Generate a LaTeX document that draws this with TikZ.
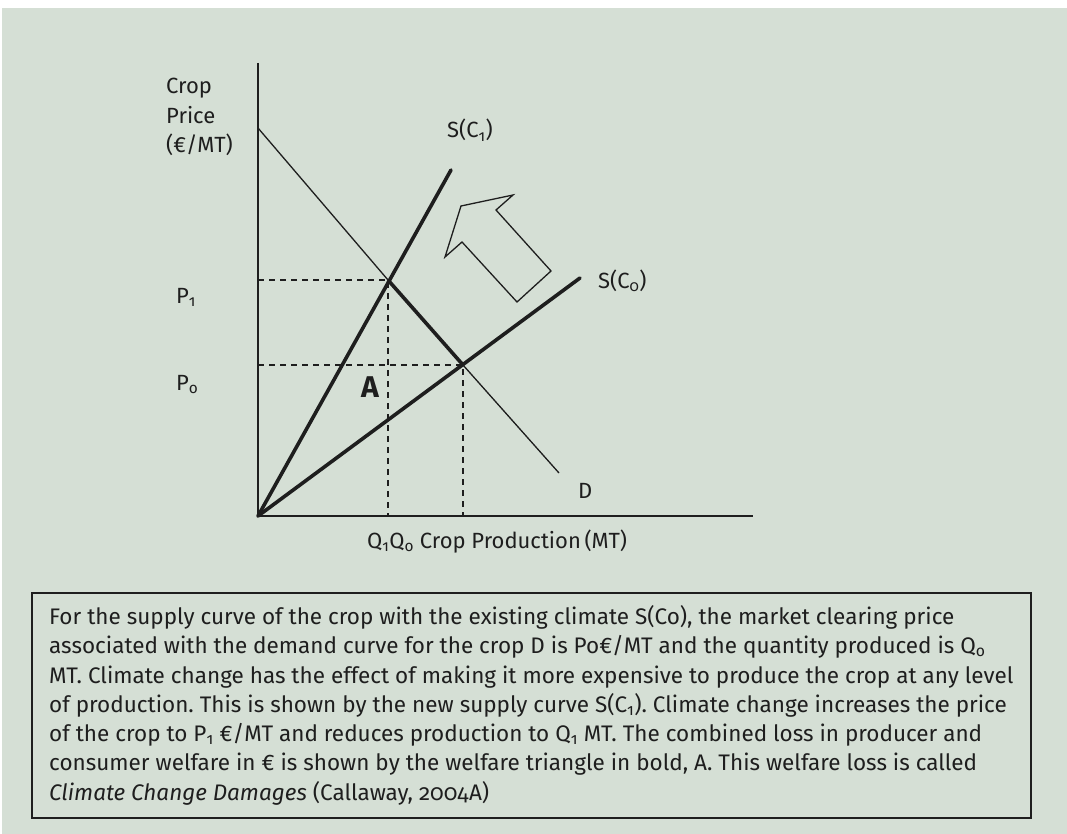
\documentclass[tikz,border=0pt]{standalone}
\usepackage{fontspec}
\setmainfont{Fira Sans}[Numbers=OldStyle]
\usepackage{tikz}
\usetikzlibrary{positioning,calc}
\definecolor{Sage}{HTML}{D5DFD5}
\definecolor{Ink}{HTML}{1E1E1E}
\newcommand{\sub}[1]{\textsubscript{#1}}
\frenchspacing

\begin{document}
\begin{tikzpicture}[x=1pt,y=-1pt,
  axis/.style={draw=Ink,line width=1.6pt},
  thin/.style={draw=Ink,line width=1.3pt},
  thick/.style={draw=Ink,line width=3.6pt},
  guide/.style={draw=Ink,line width=1.4pt,dash pattern=on 6pt off 5pt},
  lbl/.style={inner sep=0pt,anchor=base west,text=Ink,font=\fontsize{22}{29.5}\selectfont},
  notebox/.style={draw=Ink,line width=1.6pt,anchor=north west,minimum width=999pt,minimum height=225pt,
    inner sep=0pt,align=left,text=Ink,font=\fontsize{22.5}{29.3}\selectfont}
]
\useasboundingbox (0,0) rectangle (1067,834);
\fill[white] (0,0) rectangle (1067,834);
\fill[Sage] (2,8) rectangle (1067,834);
% points of the chart
\coordinate (O) at (258,516);
\coordinate (ytop) at (258,63);
\coordinate (xend) at (753,516);
\coordinate (dtop) at (258,128);
\coordinate (dend) at (559,473);
\coordinate (e1) at (388,280);
\coordinate (e0) at (463,365);
\coordinate (s1end) at (451,170);
\coordinate (s0end) at (580,278);
\coordinate (p1) at (258,280);
\coordinate (p0) at (258,365);
\coordinate (q1) at (388,516);
\coordinate (q0) at (463,516);
% axes and curves
\draw[axis] (ytop) -- (O) -- (xend);
\draw[thin] (dtop) -- (e1);
\draw[thin] (e0) -- (dend);
\draw[thick] (e1) -- (e0);
\draw[thick,line cap=round] (O) -- (s1end);
\draw[thick,line cap=round] (O) -- (s0end);
\draw[guide] (p1) -- (e1) -- (q1);
\draw[guide] (p0) -- (e0) -- (q0);
% shift arrow
\draw[Ink,line width=1.3pt,line join=miter] (461,206) -- (513,195) -- (496,210) -- (551,271)
  -- (517,302) -- (462,242) -- (445,257) -- cycle;
% labels
\node[lbl,align=left,anchor=north west] (yname) at (166,78) {Crop\\Price\\(€/MT)};
\node[lbl] (s1name) at (447,138) {S(C\sub{1})};
\node[lbl] (s0name) at (598,288) {S(C\sub{0})};
\node[lbl] (p1name) at (176,303) {P\sub{1}};
\node[lbl] (p0name) at (176,390) {P\sub{o}};
\node[lbl,font=\fontsize{30}{30}\selectfont\bfseries] (area) at (361,397) {A};
\node[lbl] (dname) at (578,498) {D};
\node[lbl] (xname) at (367,548) {Q\sub{1}Q\sub{o} Crop Production\,(MT)};
% explanation
\node[notebox] (note) at (31,592) {For the supply curve of the crop with the existing climate S(Co), the market clearing price\\
associated with the demand curve for the crop D is Po€/MT and the quantity produced is Q\sub{o}\\
MT. Climate change has the effect of making it more expensive to produce the crop at any level\\
of production. This is shown by the new supply curve S(C\sub{1}). Climate change increases the price\\
of the crop to P\sub{1} €/MT and reduces production to Q\sub{1} MT. The combined loss in producer and\\
consumer welfare in € is shown by the welfare triangle in bold, A. This welfare loss is called\\
\textit{Climate Change Damages} (Callaway, 2004A)};
\end{tikzpicture}
\end{document}
